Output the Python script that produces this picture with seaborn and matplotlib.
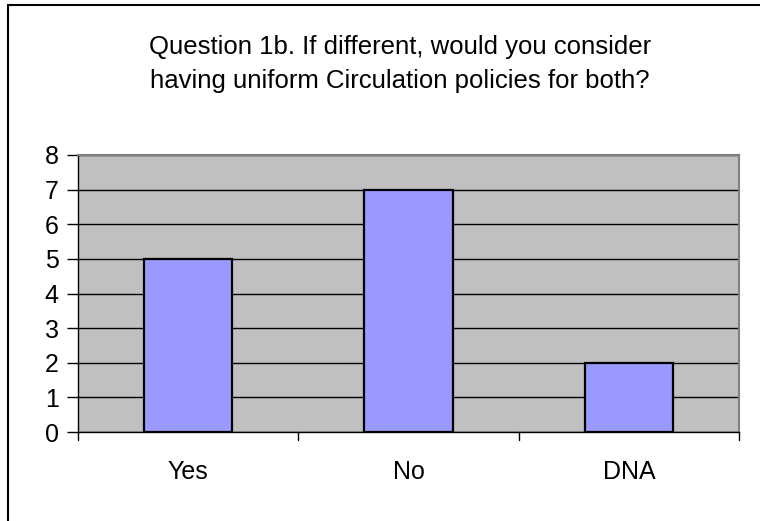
import matplotlib
matplotlib.use("Agg")
import matplotlib.pyplot as plt
import seaborn as sns
import pandas as pd
from matplotlib.lines import Line2D

categories = ["Yes", "No", "DNA"]
counts = [5, 7, 2]
y_ticks = [0, 1, 2, 3, 4, 5, 6, 7, 8]
title_text = "Question 1b. If different, would you consider\nhaving uniform Circulation policies for both?"

sns.set_theme(style="white")
plt.rcParams["font.family"] = ["Liberation Sans", "DejaVu Sans"]

df = pd.DataFrame({"answer": categories, "count": counts})

W, H = 760, 521
fig = plt.figure(figsize=(W / 100, H / 100), dpi=100)
fig.patch.set_facecolor("white")

# plot area in pixel coordinates
left, right, top, bottom = 78, 739, 155, 432
ax = fig.add_axes([left / W, 1 - bottom / H, (right - left) / W, (bottom - top) / H])
ax.set_facecolor("#C0C0C0")

sns.barplot(data=df, x="answer", y="count", color="#9999FF", width=0.4,
            edgecolor="black", linewidth=1.6, saturation=1, ax=ax, zorder=3)

ax.set_ylim(0, 8)
ax.set_xlim(-0.5, 2.5)
ax.set_yticks(y_ticks)
ax.yaxis.grid(True, color="black", linewidth=1)
ax.set_axisbelow(True)
ax.set_xlabel("")
ax.set_ylabel("")

for side in ["top", "right"]:
    ax.spines[side].set_color("#808080")
    ax.spines[side].set_linewidth(1.5)
for side in ["left", "bottom"]:
    ax.spines[side].set_color("black")
    ax.spines[side].set_linewidth(1)

ax.tick_params(axis="y", direction="out", length=8, width=1, color="black",
               left=True, labelsize=18, pad=6, labelcolor="black")
ax.tick_params(axis="x", bottom=False, labelsize=18, pad=14, labelcolor="black")

# category boundary ticks along the bottom axis
for xb in [-0.5, 0.5, 1.5, 2.5]:
    ax.plot([xb, xb], [0, -0.23], color="black", linewidth=1, clip_on=False, zorder=4)

fig.text(400 / W, 1 - 64 / H, title_text, ha="center", va="center",
         fontsize=18.5, linespacing=1.5, color="black")

# chart frame (top and left edges)
fig.add_artist(Line2D([8 / W, 1], [1 - 5 / H, 1 - 5 / H], transform=fig.transFigure,
                      color="black", linewidth=1.5))
fig.add_artist(Line2D([8 / W, 8 / W], [0, 1 - 5 / H], transform=fig.transFigure,
                      color="black", linewidth=1.5))

fig.savefig("out.png", dpi=100)
